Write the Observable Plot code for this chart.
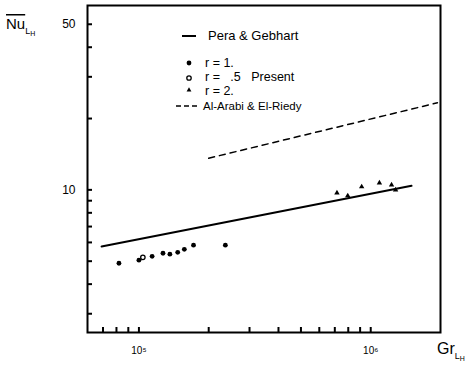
<!DOCTYPE html>
<html><head><meta charset="utf-8">
<script src="https://cdn.jsdelivr.net/npm/d3@7"></script>
<script src="https://cdn.jsdelivr.net/npm/@observablehq/plot@0.6"></script>
<style>
body{margin:0;background:#fff}
svg{font-family:"Liberation Sans",Arial,sans-serif}
</style>
</head><body><div id="chart"></div>
<script>
// Pera & Gebhart correlation (solid line)
const peraGr = [6.9e4, 1.5e6];
const peraNu = [5.77, 10.4];
// Al-Arabi & El-Riedy (dashed)
const arabiGr = [2.0e5, 1.94e6];
const arabiNu = [13.6, 23.3];
// Present data
const r1Gr = [8.2e4, 1.0e5, 1.14e5, 1.27e5, 1.36e5, 1.47e5, 1.57e5, 1.72e5, 2.36e5];
const r1Nu = [4.90, 5.05, 5.24, 5.40, 5.35, 5.45, 5.61, 5.84, 5.84];
const r05Gr = [1.04e5];
const r05Nu = [5.19];
const r2Gr = [7.15e5, 7.96e5, 9.14e5, 1.09e6, 1.23e6, 1.28e6];
const r2Nu = [9.71, 9.44, 10.3, 10.7, 10.5, 10.0];
// ticks
const xTicks = [7e4, 8e4, 9e4, 1e5, 2e5, 3e5, 4e5, 5e5, 6e5, 7e5, 8e5, 9e5, 1e6];
const xLabelValues = [1e5, 1e6];
const xLabelTexts = ["10⁵", "10⁶"];
const yTicks = [3, 4, 5, 6, 7, 8, 9, 10, 20, 30, 40, 50];
const yLabelValues = [10, 50];
// legend
const legendLabels = ["Pera & Gebhart", "r = 1.", "r =   .5   Present", "r = 2.", "Al-Arabi & El-Riedy"];

const zip = (xs, ys) => xs.map((x, i) => ({x, y: ys[i]}));
const W = 472, H = 368, ML = 87, MR = 32, MT = 5, MB = 36;
const TICK = 5;

const plot = Plot.plot({
  width: W, height: H,
  marginLeft: ML, marginRight: MR, marginTop: MT, marginBottom: MB,
  style: {background: "#fff", color: "#000", fontFamily: "'Liberation Sans', Arial, sans-serif"},
  x: {type: "log", domain: [6e4, 2e6]},
  y: {type: "log", domain: [2.5, 60]},
  marks: [
    Plot.axisX(xLabelValues, {tickSize: 0, tickPadding: 14, tickFormat: d => xLabelTexts[xLabelValues.indexOf(d)], label: null, fontSize: 10}),
    Plot.axisY(yLabelValues, {tickSize: 0, tickPadding: 12, label: null, fontSize: 12}),
    Plot.frame({stroke: "#000", strokeWidth: 2}),
    Plot.ruleX(xTicks, {x: d => d, insetTop: H - MT - MB - TICK, stroke: "#000", strokeWidth: 2}),
    Plot.ruleY(yTicks, {y: d => d, insetRight: W - ML - MR - TICK, stroke: "#000", strokeWidth: 2}),
    Plot.line(zip(peraGr, peraNu), {x: "x", y: "y", stroke: "#000", strokeWidth: 2}),
    Plot.line(zip(arabiGr, arabiNu), {x: "x", y: "y", stroke: "#000", strokeWidth: 1.5, strokeDasharray: "6,5"}),
    Plot.dot(zip(r1Gr, r1Nu), {x: "x", y: "y", r: 2.4, fill: "#000", stroke: "none"}),
    Plot.dot(zip(r05Gr, r05Nu), {x: "x", y: "y", r: 2.2, fill: "#fff", stroke: "#000", strokeWidth: 1.3}),
    Plot.dot(zip(r2Gr, r2Nu), {x: "x", y: "y", symbol: "triangle", r: 2, fill: "#000", stroke: "none"})
  ]
});
document.getElementById("chart").append(plot);

const svg = d3.select(plot);
const g = svg.append("g").attr("fill", "#000").attr("text-anchor", "start");
// legend
g.append("line").attr("x1", 182).attr("x2", 196).attr("y1", 36).attr("y2", 36).attr("stroke", "#000").attr("stroke-width", 2);
g.append("text").attr("x", 208).attr("y", 40).attr("font-size", 13).text(legendLabels[0]);
g.append("circle").attr("cx", 189).attr("cy", 63).attr("r", 2.4);
g.append("text").attr("x", 205).attr("y", 67).attr("font-size", 12.5).style("white-space", "pre").text(legendLabels[1]);
g.append("circle").attr("cx", 189).attr("cy", 78).attr("r", 2.2).attr("fill", "#fff").attr("stroke", "#000").attr("stroke-width", 1.3);
g.append("text").attr("x", 205).attr("y", 81).attr("font-size", 12.5).style("white-space", "pre").text(legendLabels[2]);
g.append("path").attr("d", d3.symbol(d3.symbolTriangle, 10)()).attr("transform", "translate(189,90)");
g.append("text").attr("x", 205).attr("y", 95).attr("font-size", 12.5).style("white-space", "pre").text(legendLabels[3]);
g.append("line").attr("x1", 176).attr("x2", 198).attr("y1", 106).attr("y2", 106).attr("stroke", "#000").attr("stroke-width", 1.3).attr("stroke-dasharray", "5,3");
g.append("text").attr("x", 203).attr("y", 110).attr("font-size", 11.5).text(legendLabels[4]);
// axis titles
const nu = g.append("text").attr("x", 6).attr("y", 29).attr("font-size", 15);
nu.append("tspan").style("text-decoration", "overline").text("Nu");
nu.append("tspan").attr("font-size", 9).attr("dy", 5).text("L");
nu.append("tspan").attr("font-size", 7).attr("dy", 2).text("H");
const gr = g.append("text").attr("x", 437).attr("y", 354).attr("font-size", 16);
gr.append("tspan").text("Gr");
gr.append("tspan").attr("font-size", 9).attr("dy", 5).text("L");
gr.append("tspan").attr("font-size", 7).attr("dy", 2).text("H");
</script>
</body></html>
